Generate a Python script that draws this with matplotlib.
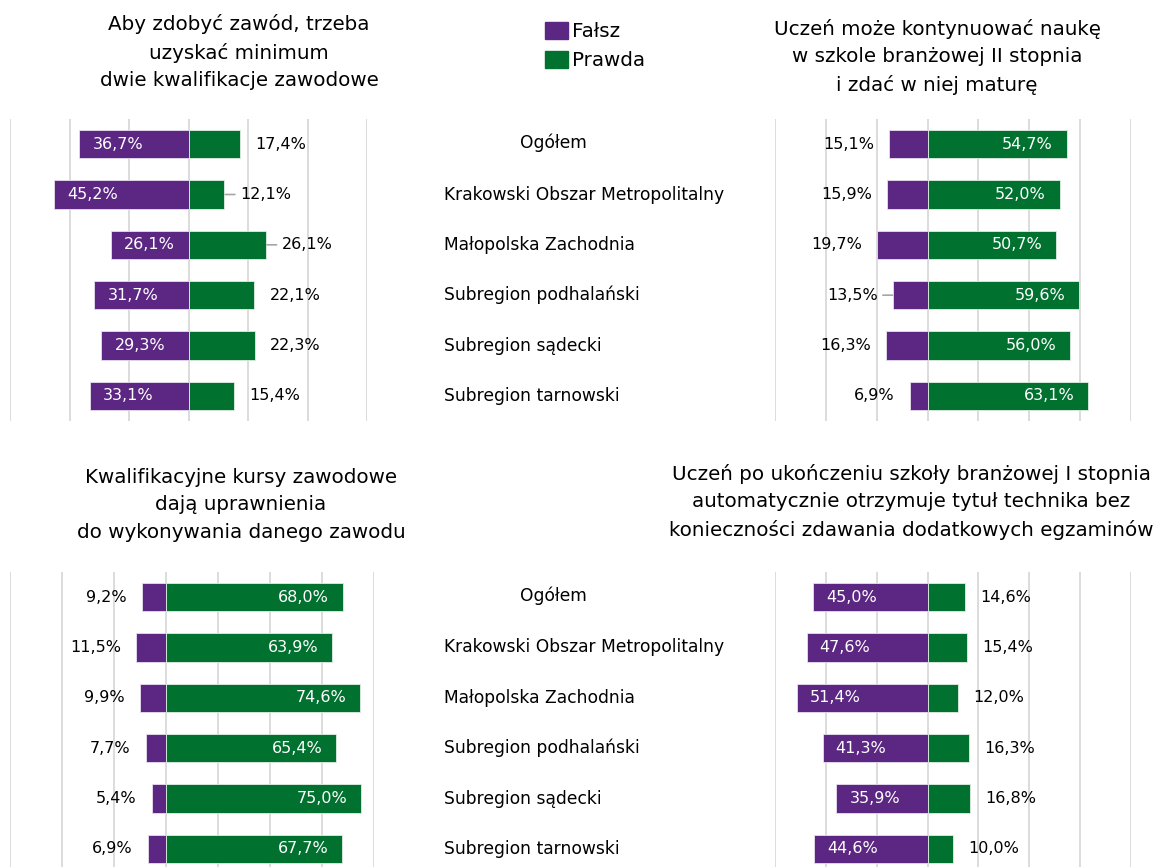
import matplotlib
matplotlib.use("Agg")
import matplotlib.pyplot as plt
from matplotlib.patches import Patch

plt.rcParams['font.family'] = ['DejaVu Sans']

# dane
kategorie = ["Ogółem", "Krakowski Obszar Metropolitalny", "Małopolska Zachodnia",
             "Subregion podhalański", "Subregion sądecki", "Subregion tarnowski"]

falsz_1 = [36.7, 45.2, 26.1, 31.7, 29.3, 33.1]
prawda_1 = [17.4, 12.1, 26.1, 22.1, 22.3, 15.4]
falsz_2 = [15.1, 15.9, 19.7, 13.5, 16.3, 6.9]
prawda_2 = [54.7, 52.0, 50.7, 59.6, 56.0, 63.1]
falsz_3 = [9.2, 11.5, 9.9, 7.7, 5.4, 6.9]
prawda_3 = [68.0, 63.9, 74.6, 65.4, 75.0, 67.7]
falsz_4 = [45.0, 47.6, 51.4, 41.3, 35.9, 44.6]
prawda_4 = [14.6, 15.4, 12.0, 16.3, 16.8, 10.0]

tytul_1 = "Aby zdobyć zawód, trzeba\nuzyskać minimum\ndwie kwalifikacje zawodowe"
tytul_2 = "Uczeń może kontynuować naukę\nw szkole branżowej II stopnia\ni zdać w niej maturę"
tytul_3 = "Kwalifikacyjne kursy zawodowe\ndają uprawnienia\ndo wykonywania danego zawodu"
tytul_4 = ("Uczeń po ukończeniu szkoły branżowej I stopnia\n"
           "automatycznie otrzymuje tytuł technika bez\n"
           "konieczności zdawania dodatkowych egzaminów")

FIOLET = '#5C2683'
ZIELEN = '#00712F'
SIATKA = '#D9D9D9'

W, H = 1158, 867
fig = plt.figure(figsize=(W / 100, H / 100), dpi=100)


def fmt(v):
    return f"{v:.1f}%".replace('.', ',')


def px_ax(x0, x1, ytop, yh):
    return fig.add_axes([x0 / W, 1 - (ytop + yh) / H, (x1 - x0) / W, yh / H])


def linia(ax, x, i, kier):
    # krotka szara linia odnosnika przy etykiecie
    ax.annotate('', (x, i), xytext=(kier * 7.5, 0), textcoords='offset points',
                arrowprops=dict(arrowstyle='-', color='#A6A6A6', lw=1.2, shrinkA=0, shrinkB=0.5))


def panel(ax, falsz, prawda, xmax, falsz_w_srodku, odnosniki=()):
    n = len(falsz)
    y = list(range(n))
    ax.set_xlim(-60, xmax)
    ax.set_ylim(n - 0.5, -0.5)
    for g in range(-60, xmax + 1, 20):
        ax.axvline(g, color=SIATKA, lw=1.3, zorder=0)
    ax.barh(y, [-v for v in falsz], height=0.56, color=FIOLET, edgecolor='#E8E0EE', lw=0.6, zorder=2)
    ax.barh(y, prawda, height=0.56, color=ZIELEN, edgecolor='#E0EEE4', lw=0.6, zorder=2)
    for i in range(n):
        if falsz_w_srodku:
            ax.annotate(fmt(falsz[i]), (-falsz[i], i), xytext=(9.5, 0), textcoords='offset points',
                        ha='left', va='center', color='white', fontsize=11.5)
            ax.annotate(fmt(prawda[i]), (prawda[i], i), xytext=(11, 0), textcoords='offset points',
                        ha='left', va='center', color='black', fontsize=11.5)
            if i in odnosniki:
                linia(ax, prawda[i], i, 1)
        else:
            ax.annotate(fmt(falsz[i]), (-falsz[i], i), xytext=(-11, 0), textcoords='offset points',
                        ha='right', va='center', color='black', fontsize=11.5)
            ax.annotate(fmt(prawda[i]), (prawda[i], i), xytext=(-10, 0), textcoords='offset points',
                        ha='right', va='center', color='white', fontsize=11.5)
            if i in odnosniki:
                linia(ax, -falsz[i], i, -1)
    ax.axis('off')


ax1 = px_ax(10, 367, 119, 302)
panel(ax1, falsz_1, prawda_1, 60, True, odnosniki=(1, 2))
ax2 = px_ax(775, 1131, 119, 302)
panel(ax2, falsz_2, prawda_2, 80, False, odnosniki=(3,))
ax3 = px_ax(10, 374, 572, 302)
panel(ax3, falsz_3, prawda_3, 80, False)
ax4 = px_ax(775, 1131, 572, 302)
panel(ax4, falsz_4, prawda_4, 80, True)

# kategorie w srodku
for top in (119, 572):
    axm = px_ax(420, 760, top, 302)
    axm.set_xlim(420, 760)
    axm.set_ylim(len(kategorie) - 0.5, -0.5)
    axm.axis('off')
    for i, k in enumerate(kategorie):
        if i == 0:
            axm.text(553, i - 0.02, k, ha='center', va='center', fontsize=12.3)
        else:
            axm.text(444, i, k, ha='left', va='center', fontsize=12.3)

# tytuly
fig.text(239 / W, 1 - 52 / H, tytul_1, ha='center', va='center', fontsize=14.3, linespacing=1.55)
fig.text(937 / W, 1 - 57 / H, tytul_2, ha='center', va='center', fontsize=14.3, linespacing=1.55)
fig.text(241 / W, 1 - 505 / H, tytul_3, ha='center', va='center', fontsize=14.3, linespacing=1.55)
fig.text(911 / W, 1 - 502 / H, tytul_4, ha='center', va='center', fontsize=14.3, linespacing=1.55)

# legenda
fig.legend(handles=[Patch(color=FIOLET, label='Fałsz'), Patch(color=ZIELEN, label='Prawda')],
           loc='upper left', bbox_to_anchor=(527 / W, 1 - 4 / H), frameon=False,
           fontsize=14.3, handlelength=1.15, handleheight=0.95, handletextpad=0.22, labelspacing=0.48)

fig.savefig('out.png', dpi=100)
